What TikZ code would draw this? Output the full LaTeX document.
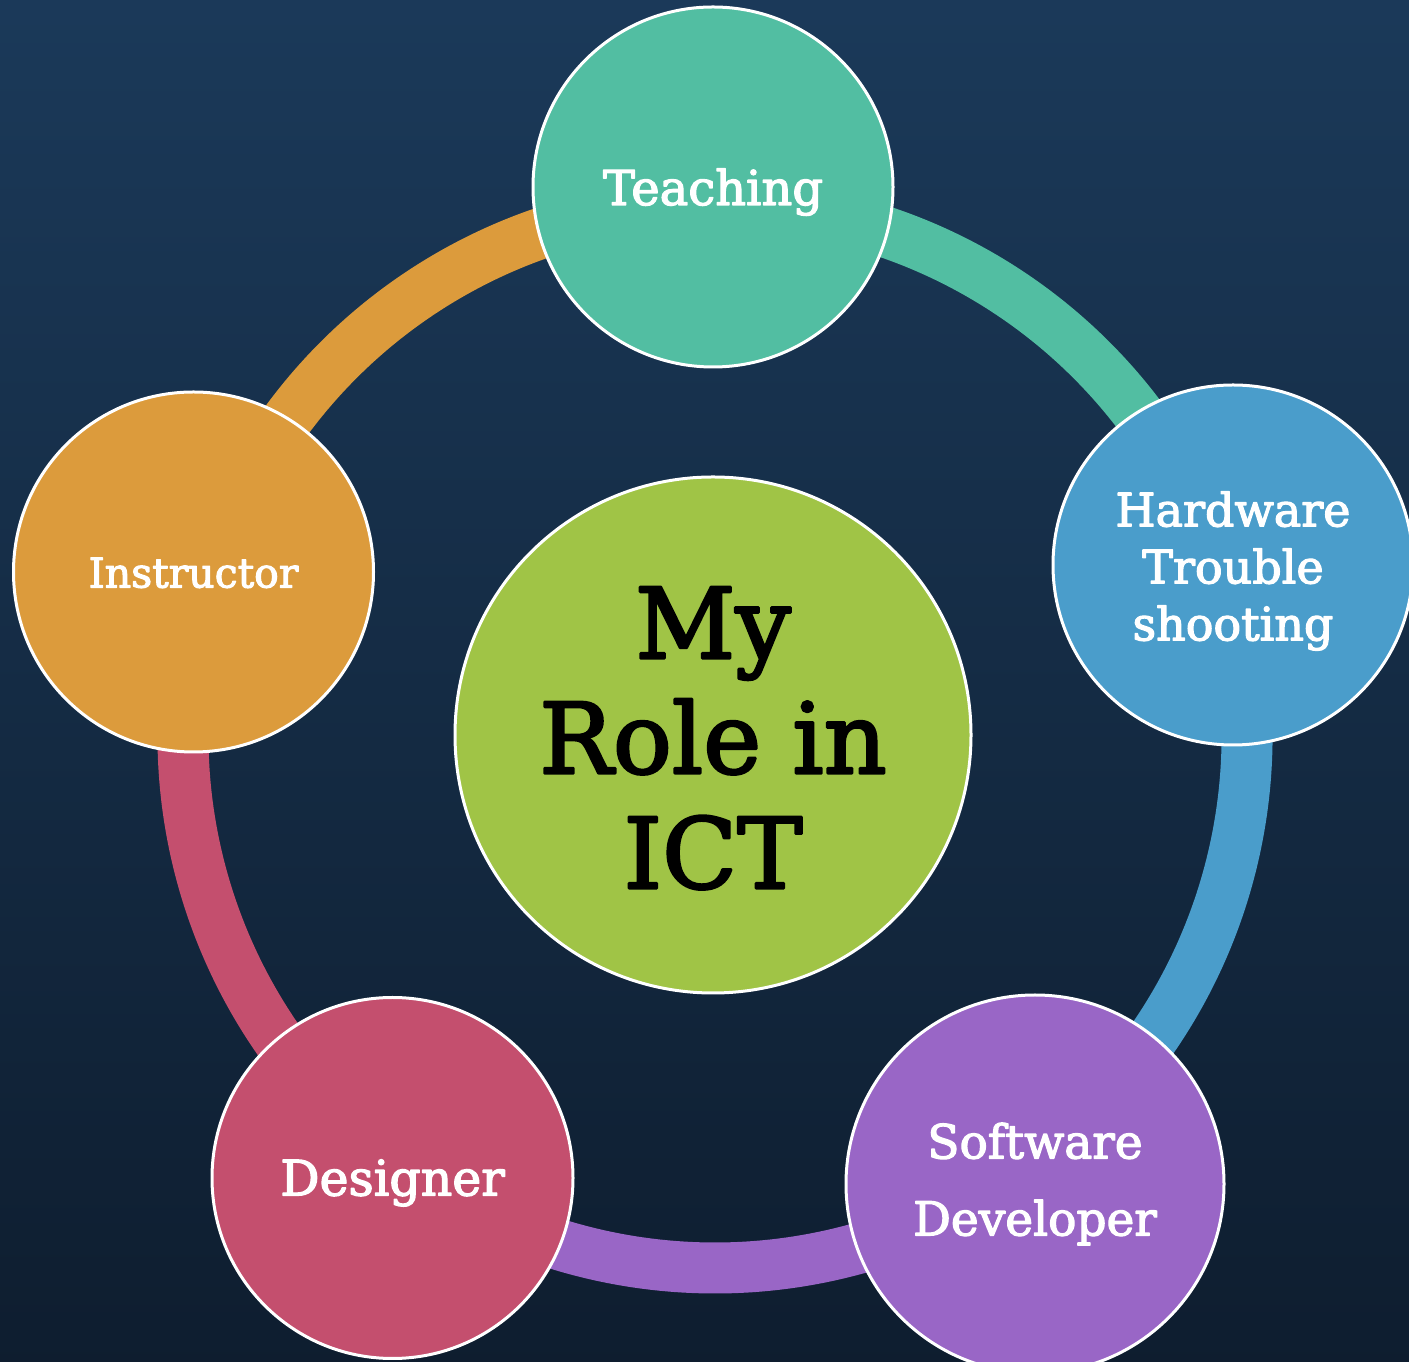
\documentclass[tikz,border=0pt]{standalone}
\usepackage{fontspec}
\setmainfont{DejaVu Serif}[FakeBold=2.6]
\usetikzlibrary{positioning}
\definecolor{bgtop}{rgb}{0.105,0.225,0.35}
\definecolor{bgmid}{rgb}{0.115,0.25,0.385}
\definecolor{bgbot}{rgb}{0.055,0.115,0.185}
\definecolor{col0}{rgb}{0.627,0.769,0.275}
\definecolor{col1}{rgb}{0.32,0.745,0.635}
\definecolor{col2}{rgb}{0.29,0.616,0.796}
\definecolor{col3}{rgb}{0.6,0.4,0.776}
\definecolor{col4}{rgb}{0.769,0.31,0.431}
\definecolor{col5}{rgb}{0.863,0.608,0.235}
\def\rolefont#1#2{\fontsize{#1bp}{#2bp}\selectfont}

\begin{document}
\begin{tikzpicture}[line join=bevel]
      %% background
      \useasboundingbox (0bp,0bp) rectangle (1409bp,1362bp);
      \shade [top color=bgtop, middle color=bgmid, bottom color=bgbot] (0bp,0bp) rectangle (1409bp,1362bp);
      %% ring
      \coordinate (c) at (715bp,626bp);
      \coordinate (r1) at (715.0bp,1158.0bp);
      \coordinate (r2) at (1221.0bp,790.4bp);
      \coordinate (r3) at (1027.7bp,195.6bp);
      \coordinate (r4) at (402.3bp,195.6bp);
      \coordinate (r5) at (209.0bp,790.4bp);
      \begin{scope}[line width=51bp]
        \draw [draw=col1] (r1) arc [start angle=90, end angle=18, radius=532bp];
        \draw [draw=col2] (r2) arc [start angle=18, end angle=-54, radius=532bp];
        \draw [draw=col3] (r3) arc [start angle=-54, end angle=-126, radius=532bp];
        \draw [draw=col4] (r4) arc [start angle=-126, end angle=-198, radius=532bp];
        \draw [draw=col5] (r5) arc [start angle=162, end angle=90, radius=532bp];
      \end{scope}
      %% circles
      \node (0) at (713.0bp,627.0bp) [draw=white,line width=3bp,fill=col0,circle,minimum size=516bp,inner sep=0pt,align=center,font=\rolefont{98}{115}] {\rule{0pt}{78bp}My\\Role in\\ICT};
      \node (1) at (713.0bp,1175.0bp) [draw=white,line width=3bp,fill=col1,circle,minimum size=360bp,inner sep=0pt,text=white,text height=36bp,text depth=0bp,font=\rolefont{48}{57}] {Teaching};
      \node (2) at (1233.0bp,797.0bp) [draw=white,line width=3bp,fill=col2,circle,minimum size=360bp,inner sep=0pt,text=white,align=center,font=\rolefont{46}{57}] {\rule{0pt}{47bp}Hardware\\Trouble\\shooting};
      \node (3) at (1035.0bp,178.0bp) [draw=white,line width=3bp,fill=col3,circle,minimum size=378bp,inner sep=0pt,text=white,align=center,font=\rolefont{47}{77}] {Software\\Developer};
      \node (4) at (392.5bp,184.0bp) [draw=white,line width=3bp,fill=col4,circle,minimum size=361bp,inner sep=0pt,text=white,text height=35bp,text depth=0bp,font=\rolefont{49}{57}] {Designer};
      \node (5) at (193.5bp,790.0bp) [draw=white,line width=3bp,fill=col5,circle,minimum size=360bp,inner sep=0pt,text=white,text height=31bp,text depth=0bp,font=\rolefont{41}{57}] {Instructor};
    \end{tikzpicture}
\end{document}
